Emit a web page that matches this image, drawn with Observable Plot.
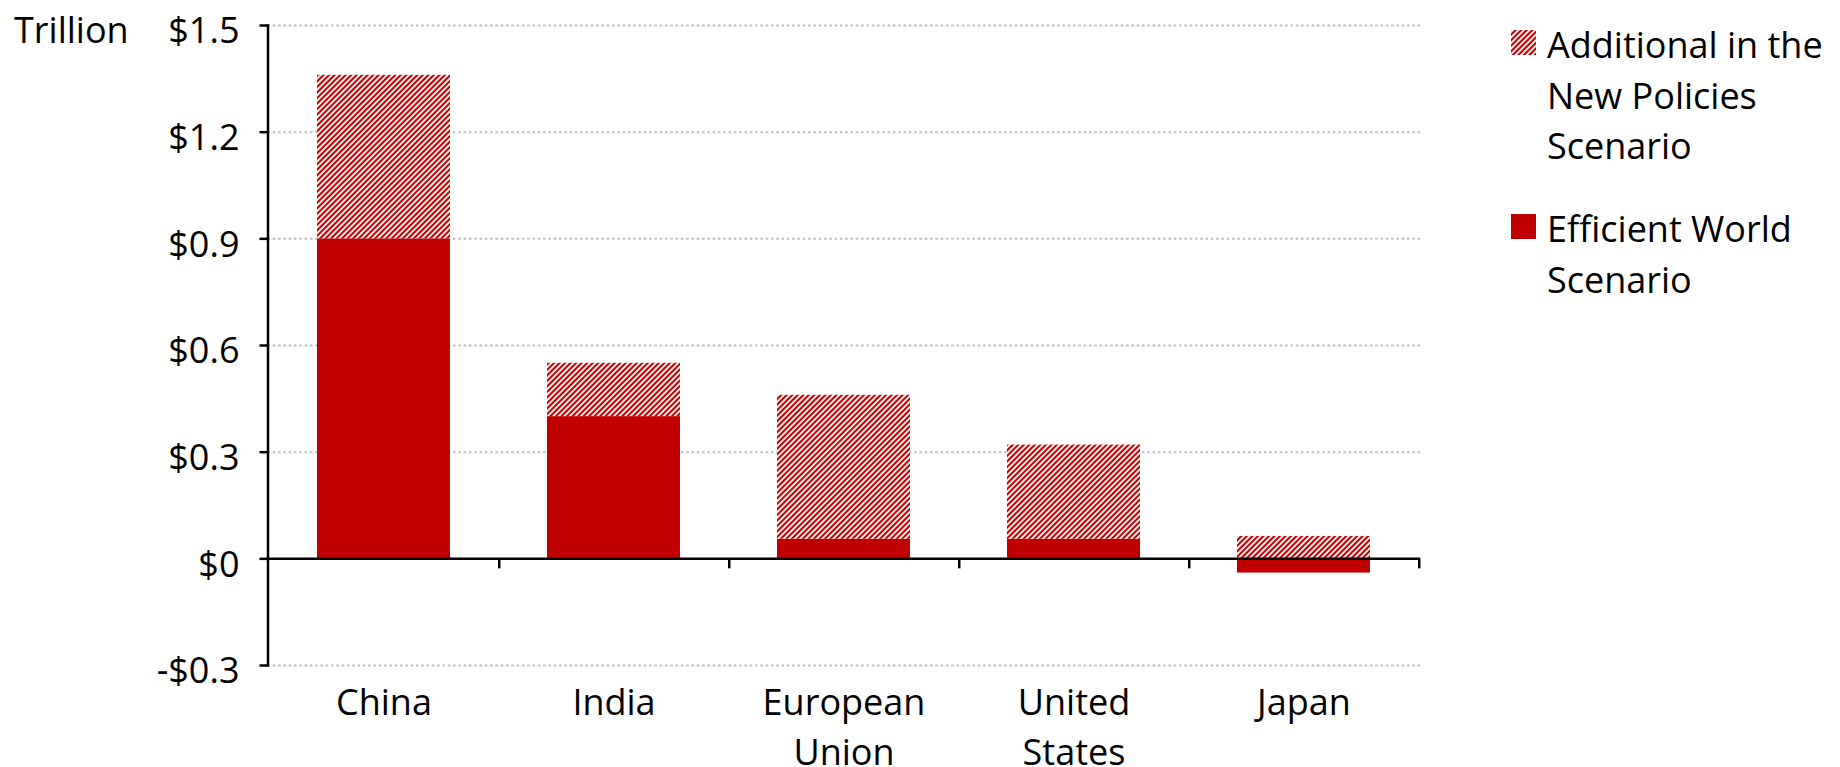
<!DOCTYPE html>
<html>
<head>
<meta charset="utf-8">
<script src="https://cdn.jsdelivr.net/npm/d3@7"></script>
<script src="https://cdn.jsdelivr.net/npm/@observablehq/plot@0.6"></script>
<style>
  html, body { margin: 0; padding: 0; background: #fff; overflow: hidden; }
</style>
</head>
<body>
<div id="chart"></div>
<script>
// Investment by country, trillion dollars
const countries = ["China", "India", "European Union", "United States", "Japan"];
const efficientWorld = [0.90, 0.40, 0.055, 0.055, -0.04];
const additionalNewPolicies = [0.46, 0.15, 0.405, 0.265, 0.063];
const seriesNames = ["Efficient World Scenario", "Additional in the New Policies Scenario"];
const yTicks = [-0.3, 0, 0.3, 0.6, 0.9, 1.2, 1.5];
const unitLabel = "Trillion";
const legendLines = [
  ["Additional in the", "New Policies", "Scenario"],
  ["Efficient World", "Scenario"]
];

// long-format rows: efficient world first so it sits at the base of each stack
const rows = [
  ...countries.map((c, i) => ({country: c, series: seriesNames[0], value: efficientWorld[i]})),
  ...countries.map((c, i) => ({country: c, series: seriesNames[1], value: additionalNewPolicies[i]}))
];

const W = 1840, H = 767;
const mL = 267.5, mR = 420, mT = 25, mB = 102;
const step = (W - mL - mR) / countries.length;
const RED = "#C00000";
const FONT = "'Open Sans', sans-serif";
const FS = 36;
const money = v => (v < 0 ? "-$" : "$") + Math.abs(v);

const chart = Plot.plot({
  width: W,
  height: H,
  marginLeft: mL,
  marginRight: mR,
  marginTop: mT,
  marginBottom: mB,
  style: {fontFamily: FONT, fontSize: FS + "px", color: "#000", background: "#fff"},
  x: {domain: countries, paddingInner: 0.42, paddingOuter: 0.21},
  y: {domain: [-0.3, 1.5]},
  color: {domain: seriesNames, range: [RED, "url(#hatch)"]},
  marks: [
    Plot.ruleY(yTicks.filter(d => d !== 0), {stroke: "#bfbfbf", strokeWidth: 2, strokeDasharray: "2.5,2.8"}),
    Plot.barY(rows, {x: "country", y: "value", fill: "series"}),
    Plot.ruleY([0], {stroke: "#000", strokeWidth: 2.5}),
    // category separators hanging below the zero line
    Plot.ruleX(countries, {x: d => d, y1: 0, y2: 0, dx: step / 2, insetBottom: -10, stroke: "#000", strokeWidth: 2.5}),
    Plot.frame({anchor: "left", stroke: "#000", strokeWidth: 2.5}),
    Plot.axisY({ticks: yTicks, tickSize: 8, strokeWidth: 2.5, fill: "none", label: null, tickFormat: null}),
    Plot.axisY({ticks: yTicks, tickSize: 0, tickPadding: 28.5, dy: 6.2, tickFormat: money, label: null, fill: "#000"}),
    Plot.axisX({tickSize: 0, tickPadding: 13.5, lineHeight: 1.39, tickFormat: d => d.replace(" ", "\n"), label: null, fill: "#000"})
  ]
});

const svg = d3.select(chart);

// diagonal hatch used by the "additional" series
const pattern = svg.insert("defs", ":first-child")
  .append("pattern")
  .attr("id", "hatch")
  .attr("patternUnits", "userSpaceOnUse")
  .attr("width", 3.9)
  .attr("height", 3.9)
  .attr("patternTransform", "rotate(45)");
pattern.append("rect").attr("width", 3.9).attr("height", 3.9).attr("fill", "#fff");
pattern.append("rect").attr("width", 2.1).attr("height", 3.9).attr("fill", RED);

// unit label at the top left
svg.append("text")
  .attr("x", 14)
  .attr("y", 42.7)
  .attr("text-anchor", "start")
  .attr("font-family", FONT)
  .attr("font-size", FS)
  .attr("fill", "#000")
  .text(unitLabel);

// legend on the right
const legend = svg.append("g")
  .attr("font-family", FONT)
  .attr("font-size", FS)
  .attr("text-anchor", "start")
  .attr("fill", "#000");
const legendFills = ["url(#hatch)", RED];
const blockTops = [30, 214];
legendLines.forEach((lines, k) => {
  legend.append("rect")
    .attr("x", 1511)
    .attr("y", blockTops[k])
    .attr("width", 25)
    .attr("height", 25)
    .attr("fill", legendFills[k]);
  lines.forEach((line, j) => {
    legend.append("text")
      .attr("x", 1547)
      .attr("y", blockTops[k] + 28 + j * 50.5)
      .text(line);
  });
});

document.getElementById("chart").appendChild(chart);
</script>
</body>
</html>
